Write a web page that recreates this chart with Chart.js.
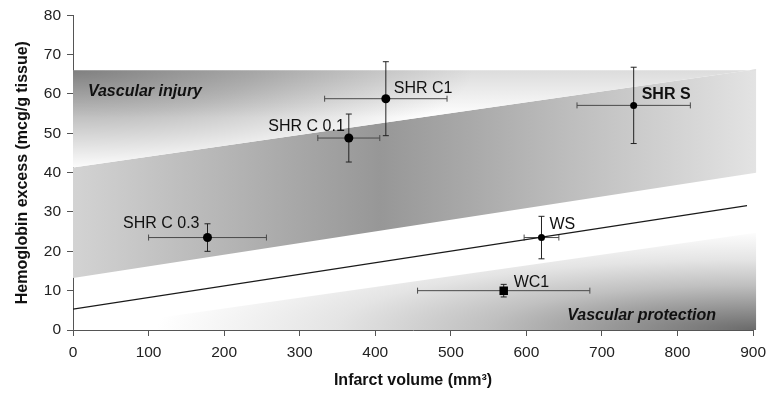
<!DOCTYPE html>
<html><head><meta charset="utf-8">
<script src="https://cdn.jsdelivr.net/npm/chart.js@4.4.0/dist/chart.umd.min.js"></script>
<style>html,body{margin:0;padding:0;background:#fff;}canvas{display:block;}</style>
</head><body>
<canvas id="c" width="773" height="395"></canvas>
<script>
// ---- data ----
const groups = ['SHR C 0.3', 'SHR C 0.1', 'SHR C1', 'SHR S', 'WS', 'WC1'];
const infarctVolume = [178, 365, 414, 742, 620, 570];
const infarctError = [78, 41, 81, 75, 23, 114];
const hemoglobin = [23.5, 48.8, 58.8, 57.1, 23.5, 10.0];
const hemoglobinError = [3.5, 6.1, 9.4, 9.7, 5.4, 1.6];
const trendX = [0, 892];
const trendY = [5.3, 31.6];
const bandX = [0, 904];
const injuryTop = [66, 66];
const riskUpper = [41.3, 66.3];
const riskLower = [13.2, 40.0];
const protectEdge = [0, 24.7];
const regionNames = ['Vascular injury', 'Vascular protection'];
const regionAnchorX = [19.7, 654];
const regionAnchorY = [59.5, 2.5];

// ---- styles ----
const FONT = "'Liberation Sans', Arial, Helvetica, sans-serif";
const markerStyle = ['circle', 'circle', 'circle', 'circle', 'circle', 'rect'];
const markerRadius = [4.5, 4.5, 4.5, 3.5, 3.5, 6];
const labelStyle = [
  {dx: -8, dy: -10, align: 'right', bold: false},
  {dx: -4, dy: -7, align: 'right', bold: false},
  {dx: 8, dy: -6, align: 'left', bold: false},
  {dx: 8, dy: -6, align: 'left', bold: true},
  {dx: 8, dy: -9, align: 'left', bold: false},
  {dx: 10, dy: -4, align: 'left', bold: false}
];

const bandsPlugin = {
  id: 'bands',
  beforeDatasetsDraw(chart) {
    const {ctx, scales: {x, y}} = chart;
    const X = v => x.getPixelForValue(v), Y = v => y.getPixelForValue(v);
    const x0 = X(bandX[0]), x1 = X(bandX[1]);
    ctx.save();
    // middle band
    ctx.beginPath();
    ctx.moveTo(x0, Y(riskLower[0])); ctx.lineTo(x1, Y(riskLower[1]));
    ctx.lineTo(x1, Y(riskUpper[1])); ctx.lineTo(x0, Y(riskUpper[0])); ctx.closePath();
    let g = ctx.createLinearGradient(x0, 0, x1, 0);
    g.addColorStop(0, '#d3d3d3'); g.addColorStop(0.45, '#979797'); g.addColorStop(1, '#e3e3e3');
    ctx.fillStyle = g; ctx.fill();
    // injury triangle: light vertical base + dark corner glow
    ctx.beginPath();
    ctx.moveTo(x0, Y(injuryTop[0])); ctx.lineTo(x1, Y(injuryTop[1]));
    ctx.lineTo(x1, Y(riskUpper[1])); ctx.lineTo(x0, Y(riskUpper[0])); ctx.closePath();
    g = ctx.createLinearGradient(0, Y(injuryTop[0]), 0, Y(54));
    g.addColorStop(0, '#dcdcdc'); g.addColorStop(1, '#ffffff');
    ctx.fillStyle = g; ctx.fill();
    ctx.save();
    ctx.translate(x0, Y(injuryTop[0])); ctx.scale(4, 1);
    g = ctx.createRadialGradient(0, 0, 0, 0, 0, 100);
    g.addColorStop(0, 'rgba(0,0,0,0.42)'); g.addColorStop(0.45, 'rgba(0,0,0,0.25)'); g.addColorStop(1, 'rgba(0,0,0,0)');
    ctx.fillStyle = g; ctx.fill();
    ctx.restore();
    // protection triangle
    ctx.beginPath();
    ctx.moveTo(x0, Y(protectEdge[0])); ctx.lineTo(x1, Y(protectEdge[1]));
    ctx.lineTo(x1, Y(0)); ctx.closePath();
    ctx.save();
    ctx.translate(x1, Y(0)); ctx.scale(6, 1);
    g = ctx.createRadialGradient(0, 0, 0, 0, 0, 100);
    g.addColorStop(0, '#6a6a6a'); g.addColorStop(0.2, '#909090'); g.addColorStop(0.45, '#c0c0c0');
    g.addColorStop(0.7, '#e4e4e4'); g.addColorStop(1, '#ffffff');
    ctx.fillStyle = g; ctx.fill();
    ctx.restore();
    // error bars
    ctx.lineWidth = 1;
    for (let i = 0; i < groups.length; i++) {
      const cx = X(infarctVolume[i]), cy = Y(hemoglobin[i]);
      const xl = X(infarctVolume[i] - infarctError[i]), xr = X(infarctVolume[i] + infarctError[i]);
      const yt = Y(hemoglobin[i] + hemoglobinError[i]), yb = Y(hemoglobin[i] - hemoglobinError[i]);
      ctx.strokeStyle = '#4a4a4a';
      ctx.beginPath();
      ctx.moveTo(xl, cy); ctx.lineTo(xr, cy);
      ctx.moveTo(xl, cy - 3); ctx.lineTo(xl, cy + 3);
      ctx.moveTo(xr, cy - 3); ctx.lineTo(xr, cy + 3);
      ctx.stroke();
      ctx.strokeStyle = '#222';
      ctx.beginPath();
      ctx.moveTo(cx, yt); ctx.lineTo(cx, yb);
      ctx.moveTo(cx - 3, yt); ctx.lineTo(cx + 3, yt);
      ctx.moveTo(cx - 3, yb); ctx.lineTo(cx + 3, yb);
      ctx.stroke();
    }
    ctx.restore();
  },
  afterDatasetsDraw(chart) {
    const {ctx, scales: {x, y}} = chart;
    const X = v => x.getPixelForValue(v), Y = v => y.getPixelForValue(v);
    ctx.save();
    ctx.fillStyle = '#111';
    ctx.textBaseline = 'alphabetic';
    for (let i = 0; i < groups.length; i++) {
      const s = labelStyle[i];
      ctx.font = (s.bold ? 'bold ' : '') + '16px ' + FONT;
      ctx.textAlign = s.align;
      ctx.fillText(groups[i], X(infarctVolume[i]) + s.dx, Y(hemoglobin[i]) + s.dy);
    }
    ctx.font = 'italic bold 16px ' + FONT;
    ctx.textAlign = 'left';
    for (let i = 0; i < regionNames.length; i++) {
      ctx.fillText(regionNames[i], X(regionAnchorX[i]), Y(regionAnchorY[i]));
    }
    ctx.restore();
  }
};

const points = groups.map((g, i) => ({x: infarctVolume[i], y: hemoglobin[i]}));
const trend = trendX.map((v, i) => ({x: v, y: trendY[i]}));

new Chart(document.getElementById('c'), {
  type: 'scatter',
  data: {
    datasets: [
      {type: 'line', data: trend, borderColor: '#1a1a1a', borderWidth: 1.2, pointRadius: 0, fill: false, order: 2},
      {data: points, pointStyle: markerStyle, pointRadius: markerRadius, backgroundColor: '#000', borderColor: '#000', borderWidth: 0, order: 1}
    ]
  },
  options: {
    responsive: false, animation: false, devicePixelRatio: 1,
    layout: {padding: {left: 0, right: 16, top: 14, bottom: 0}},
    plugins: {legend: {display: false}, tooltip: {enabled: false}},
    scales: {
      x: {
        type: 'linear', min: 0, max: 900,
        afterFit(s) { s.height = 65; },
        ticks: {stepSize: 100, color: '#222', font: {family: FONT, size: 15.5}, padding: 7},
        grid: {drawOnChartArea: false, drawTicks: true, tickLength: 6, color: '#555'},
        border: {color: '#555', width: 1},
        title: {display: true, text: 'Infarct volume (mm³)', color: '#111', font: {family: FONT, size: 16, weight: 'bold'}, padding: {top: 0, bottom: 5}}
      },
      y: {
        type: 'linear', min: 0, max: 80,
        afterFit(s) { s.width = 73; },
        ticks: {stepSize: 10, color: '#222', font: {family: FONT, size: 15.5}, padding: 6},
        grid: {drawOnChartArea: false, drawTicks: true, tickLength: 6, color: '#555'},
        border: {color: '#555', width: 1},
        title: {display: true, text: 'Hemoglobin excess (mcg/g tissue)', color: '#111', font: {family: FONT, size: 16, weight: 'bold'}, padding: {top: 13, bottom: 0}}
      }
    }
  },
  plugins: [bandsPlugin]
});
</script>
</body></html>
